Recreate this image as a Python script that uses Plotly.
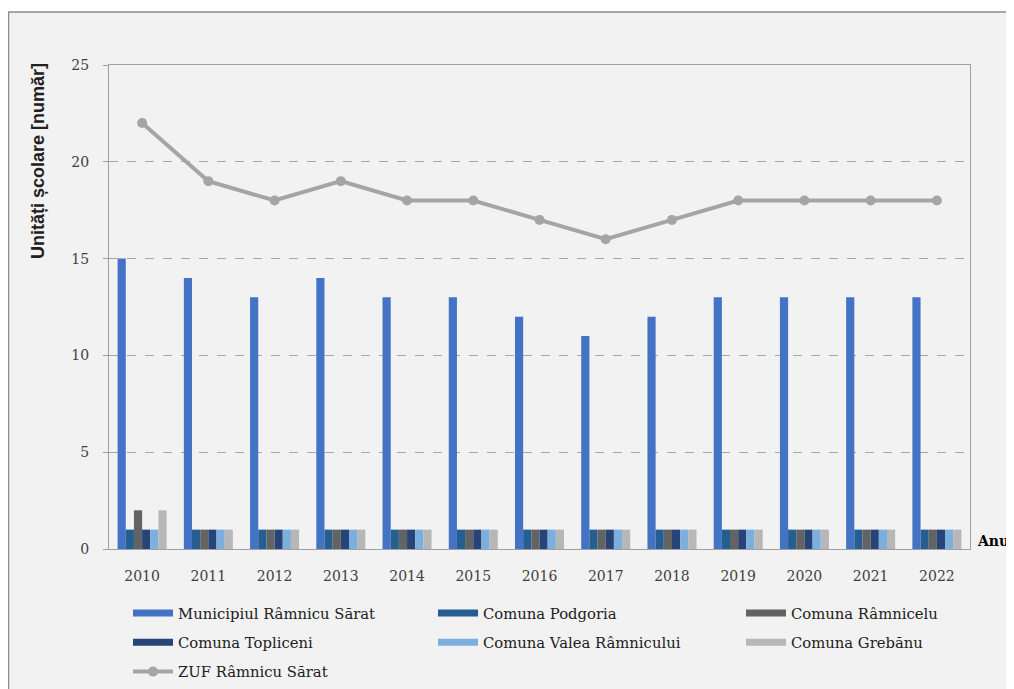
import plotly.graph_objects as go

years = ["2010", "2011", "2012", "2013", "2014", "2015", "2016", "2017", "2018", "2019", "2020", "2021", "2022"]
municipiul = [15, 14, 13, 14, 13, 13, 12, 11, 12, 13, 13, 13, 13]
podgoria = [1, 1, 1, 1, 1, 1, 1, 1, 1, 1, 1, 1, 1]
ramnicelu = [2, 1, 1, 1, 1, 1, 1, 1, 1, 1, 1, 1, 1]
topliceni = [1, 1, 1, 1, 1, 1, 1, 1, 1, 1, 1, 1, 1]
valea = [1, 1, 1, 1, 1, 1, 1, 1, 1, 1, 1, 1, 1]
grebanu = [2, 1, 1, 1, 1, 1, 1, 1, 1, 1, 1, 1, 1]
zuf = [22, 19, 18, 19, 18, 18, 17, 16, 17, 18, 18, 18, 18]

# page has an 8px body margin; figure coordinates = screen - 8
OFF = 8
W, H = 1006, 681
L, R, T, B = 101, 44, 57, 140
pw, ph = W - L - R, H - T - B

def px_x(p):
    return (p - OFF - L) / pw

def px_y(p):
    return (H - B - (p - OFF)) / ph

serif = "DejaVu Serif"
txt = "#404040"

fig = go.Figure()
bars = [
    ("Municipiul Râmnicu Sărat", municipiul, "#4472C4", "legend", 1),
    ("Comuna Podgoria", podgoria, "#255E91", "legend2", 1),
    ("Comuna Râmnicelu", ramnicelu, "#636363", "legend3", 1),
    ("Comuna Topliceni", topliceni, "#264478", "legend", 2),
    ("Comuna Valea Râmnicului", valea, "#7CAFDD", "legend2", 2),
    ("Comuna Grebănu", grebanu, "#B7B7B7", "legend3", 2),
]
for i, (name, vals, col, lg, rank) in enumerate(bars):
    fig.add_trace(go.Bar(
        x=years, y=vals, name=name, marker=dict(color=col, line=dict(width=0)),
        showlegend=False, legendgroup=name,
    ))
    # legend swatch (wide flat bar look)
    fig.add_trace(go.Scatter(
        x=[years[0]], y=[None], name=name, mode="lines", legend=lg, legendrank=rank,
        line=dict(color=col, width=7), legendgroup=name, hoverinfo="skip",
    ))

fig.add_trace(go.Scatter(
    x=years, y=zuf, name="ZUF Râmnicu Sărat", mode="lines+markers",
    line=dict(color="#A5A5A5", width=4), legend="legend", legendrank=3,
    marker=dict(color="#A5A5A5", size=10, symbol="circle"), legendgroup="zuf",
))

def leg(xs):
    return dict(
        orientation="v", x=px_x(xs), y=px_y(597), xanchor="left", yanchor="top",
        traceorder="grouped", tracegroupgap=7, itemwidth=40,
        font=dict(family=serif, size=14.8, color="#202020"),
        bgcolor="rgba(0,0,0,0)",
    )

fig.update_layout(
    width=W, height=H,
    margin=dict(l=L, r=R, t=T, b=B, autoexpand=False),
    paper_bgcolor="white",
    plot_bgcolor="white",
    barmode="group",
    bargap=0.26,
    bargroupgap=0,
    font=dict(family=serif, size=14, color=txt),
    showlegend=True,
    legend=leg(128),
    legend2=leg(433),
    legend3=leg(741),
    xaxis=dict(
        type="category", categoryorder="array", categoryarray=years,
        range=[-0.5, len(years) - 0.5],
        showgrid=False, showline=True, linecolor="#A0A0A0", linewidth=1,
        mirror=True, ticks="", ticklabelstandoff=14,
        tickfont=dict(family=serif, size=14, color=txt),
    ),
    yaxis=dict(
        range=[0, 25], dtick=5, showgrid=True, gridcolor="#A6A6A6", griddash="dash",
        gridwidth=1, showline=True, linecolor="#A0A0A0", linewidth=1, mirror=True,
        ticks="outside", ticklen=5, tickcolor="#A0A0A0", ticklabelstandoff=11,
        zeroline=False,
        tickfont=dict(family=serif, size=14, color=txt),
    ),
    shapes=[dict(
        type="rect", xref="paper", yref="paper", layer="below",
        x0=px_x(8.5), x1=px_x(1030), y0=px_y(12), y1=px_y(705),
        line=dict(color="#8C8C8C", width=1.5), fillcolor="#F2F2F2",
    )],
    annotations=[
        dict(
            text="<b>Anul</b>", xref="paper", yref="paper", x=px_x(975), y=px_y(541),
            xanchor="left", yanchor="middle", showarrow=False,
            font=dict(family=serif, size=14, color="#000000"),
        ),
        dict(
            text="<b>Unități școlare [număr]</b>", xref="paper", yref="paper",
            x=px_x(38), y=px_y(161), xanchor="center", yanchor="middle",
            textangle=-90, showarrow=False,
            font=dict(family="Liberation Sans", size=18, color="#202020"),
        ),
    ],
)

fig.write_html("out.html")
